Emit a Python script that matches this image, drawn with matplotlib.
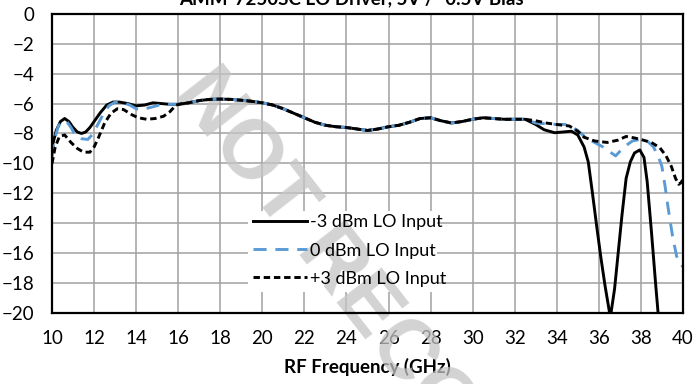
import matplotlib.pyplot as plt
from matplotlib.patches import Rectangle

# Frequency points (GHz) and conversion gain (dB) for each LO drive level.
# The band from 16 to 32.5 GHz is shared by all three traces.
mid_freq = [16.5, 17.0, 17.5, 18.0, 18.5, 19.0, 19.5, 20.0, 20.5, 21.0, 21.5,
            22.0, 22.5, 23.0, 23.5, 24.0, 24.5, 25.0, 25.5, 26.0, 26.5, 27.0,
            27.5, 28.0, 28.5, 29.0, 29.5, 30.0, 30.5, 31.0, 31.5, 32.0, 32.5]
mid_gain = [-5.95, -5.8, -5.72, -5.7, -5.72, -5.78, -5.85, -5.95, -6.1, -6.35,
            -6.65, -6.95, -7.25, -7.45, -7.55, -7.6, -7.7, -7.8, -7.7, -7.55,
            -7.45, -7.25, -7.0, -6.95, -7.15, -7.3, -7.2, -7.05, -6.95, -7.0,
            -7.05, -7.05, -7.05]

lo_m3_freq = [10.0, 10.2, 10.4, 10.6, 10.8, 11.0, 11.2, 11.4, 11.6, 11.8, 12.0,
              12.3, 12.6, 12.9, 13.2, 13.6, 14.0, 14.4, 14.8, 15.2, 15.6, 16.0] \
    + mid_freq + \
    [33.0, 33.4, 33.9, 34.3, 34.7, 35.0, 35.3, 35.5, 35.7, 35.9, 36.1, 36.3,
     36.55, 36.75, 36.9, 37.1, 37.3, 37.5, 37.7, 37.95, 38.15, 38.3, 38.5,
     38.7, 38.85, 39.0]
lo_m3_gain = [-8.9, -7.8, -7.2, -7.0, -7.2, -7.6, -7.9, -8.0, -7.9, -7.6, -7.2,
              -6.6, -6.1, -5.9, -5.9, -6.0, -6.15, -6.1, -5.95, -6.0, -6.05,
              -6.05] \
    + mid_gain + \
    [-7.4, -7.75, -7.95, -7.9, -7.85, -8.1, -8.9, -9.9, -12.0, -14.2, -16.3,
     -18.2, -20.3, -18.4, -16.3, -13.5, -11.0, -9.9, -9.3, -9.1, -9.6, -11.2,
     -14.5, -18.0, -20.5, -23.0]

lo_0_freq = [10.0, 10.1, 10.3, 10.5, 10.7, 10.9, 11.1, 11.4, 11.7, 11.9, 12.1,
             12.4, 12.7, 13.0, 13.3, 13.7, 14.0, 14.3, 14.7, 15.1, 15.5, 16.0] \
    + mid_freq + \
    [33.0, 33.5, 34.0, 34.5, 35.0, 35.4, 35.8, 36.2, 36.6, 36.8, 37.0, 37.3,
     37.6, 37.95, 38.3, 38.6, 38.85, 39.0, 39.15, 39.3, 39.5, 39.7, 39.85, 40.0]
lo_0_gain = [-9.6, -8.5, -7.5, -7.15, -7.2, -7.6, -8.1, -8.35, -8.4, -8.1, -7.6,
             -6.8, -6.15, -5.9, -5.9, -6.1, -6.35, -6.4, -6.25, -6.1, -6.05,
             -6.05] \
    + mid_gain + \
    [-7.3, -7.35, -7.4, -7.4, -7.8, -8.3, -8.6, -8.9, -9.3, -9.5, -9.2, -8.8,
     -8.5, -8.4, -8.5, -8.9, -9.6, -10.2, -11.5, -13.0, -14.8, -16.2, -16.7,
     -16.9]

lo_p3_freq = [10.0, 10.15, 10.35, 10.6, 10.9, 11.2, 11.5, 11.8, 12.0, 12.2,
              12.5, 12.8, 13.1, 13.4, 13.8, 14.1, 14.5, 14.9, 15.3, 15.6, 15.9,
              16.2] \
    + mid_freq + \
    [33.0, 33.5, 34.0, 34.6, 35.0, 35.3, 35.8, 36.4, 36.9, 37.3, 37.7, 38.0,
     38.5, 38.9, 39.2, 39.45, 39.65, 39.8, 39.9, 40.0]
lo_p3_gain = [-10.0, -8.9, -8.2, -8.1, -8.6, -9.0, -9.25, -9.25, -8.9, -8.3,
              -7.3, -6.65, -6.35, -6.4, -6.75, -6.95, -7.05, -7.0, -6.85, -6.55,
              -6.1, -6.0] \
    + mid_gain + \
    [-7.15, -7.3, -7.4, -7.5, -7.85, -8.25, -8.5, -8.6, -8.45, -8.2, -8.3,
     -8.4, -8.6, -8.95, -9.5, -10.2, -11.0, -11.4, -11.3, -11.1]

x_ticks = list(range(10, 41, 2))
y_ticks = list(range(-20, 1, 2))

plt.rcParams['font.family'] = ['Lato', 'DejaVu Sans']

fig = plt.figure(figsize=(6.94, 3.84), dpi=100)
fig.patch.set_facecolor('white')
ax = fig.add_axes([0.075, 0.185, 0.909, 0.779])
ax.set_facecolor('white')

ax.set_xlim(10, 40)
ax.set_ylim(-20, 0)
ax.set_xticks(x_ticks)
ax.set_yticks(y_ticks)
ax.tick_params(length=0, labelsize=13.5)
ax.tick_params(axis='x', pad=12)
ax.tick_params(axis='y', pad=13)
ax.set_axisbelow(True)
ax.grid(True, color='#a0a0a0', linewidth=1.1)
for s in ax.spines.values():
    s.set_color('black')
    s.set_linewidth(1.6)
    s.set_zorder(6)

ax.set_xlabel('RF Frequency (GHz)', fontsize=13.5, fontweight='bold', labelpad=8)

# white patch hiding the grid behind the legend
ax.add_patch(Rectangle((0.31, 0.07), 0.30, 0.27, transform=ax.transAxes,
                       facecolor='white', edgecolor='none', zorder=1))

# "NOT RECOMMENDED" stamp across the plot
ax.text(190 / 694, 1 - 80 / 384, 'NOT RECOMMENDED FOR NEW DESIGNS',
        transform=fig.transFigure, rotation=-52, rotation_mode='anchor',
        ha='left', va='center', fontsize=60, fontweight='bold',
        color='#c4c4c4', alpha=0.75, family='Liberation Sans',
        clip_on=False, zorder=1.5)

ax.plot(lo_m3_freq, lo_m3_gain, color='black', linewidth=2.1,
        label='-3 dBm LO Input', zorder=3)
ax.plot(lo_0_freq, lo_0_gain, color='#5b9bd5', linewidth=2.1,
        dashes=(4.5, 3), label='0 dBm LO Input', zorder=3)
ax.plot(lo_p3_freq, lo_p3_gain, color='black', linewidth=2.1,
        dashes=(2.2, 1.3), label='+3 dBm LO Input', zorder=3)

leg = ax.legend(loc='upper left', bbox_to_anchor=(0.318, 0.33), frameon=False,
                fontsize=13, handlelength=3.0, handletextpad=0.15,
                labelspacing=0.68, borderpad=0, borderaxespad=0)
leg.set_zorder(5)

fig.text(0.507, 1 - 4 / 384, 'AMM-7250SC LO Driver, 5V / -0.5V Bias',
         ha='center', va='baseline', fontsize=13.5, fontweight='bold')

fig.savefig('out.png', dpi=100)
